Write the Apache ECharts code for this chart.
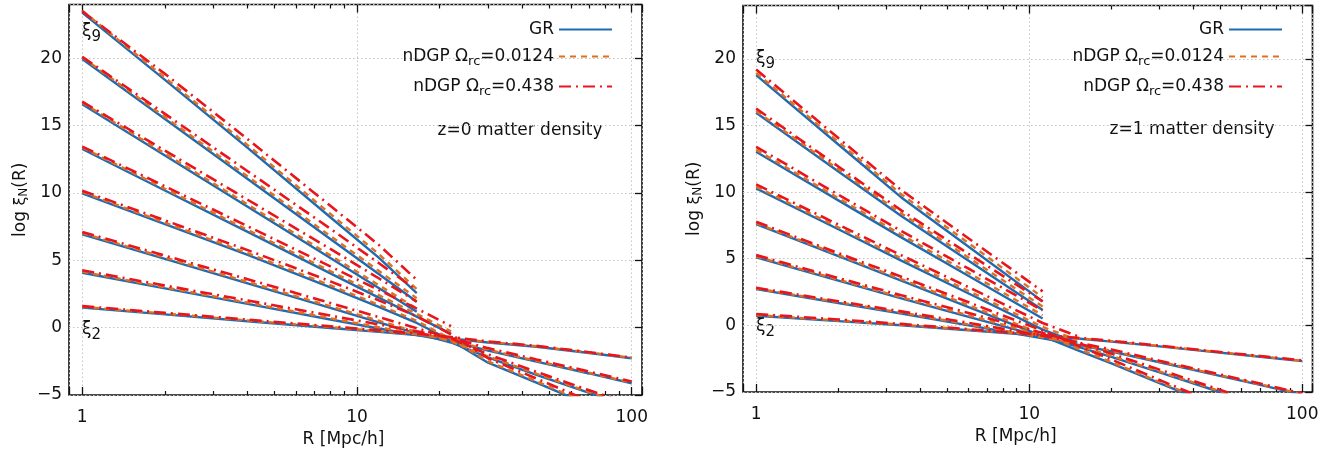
<!DOCTYPE html>
<html><head><meta charset="utf-8">
<script src="https://cdn.jsdelivr.net/npm/echarts@6/dist/echarts.min.js"></script>
<style>html,body{margin:0;padding:0;background:#fff}#c{width:1338px;height:460px}</style>
</head><body><div id="c"></div>
<script>
// ---------------- DATA ----------------
// Radii (Mpc/h) at which the curves are sampled
const R_Z0 = [1, 2, 4, 8, 12, 16.5, 22, 30, 45, 70, 100];
const R_Z1 = [1, 2, 3.4, 6, 11.2, 15, 20, 30, 45, 70, 100];
// log xi_N(R), rows = N = 2..9 ; z = 0
const Z0_GR = [
  [1.49, 0.99, 0.48, -0.02, -0.31, -0.54, -0.80, -1.10, -1.42, -1.88, -2.27],
  [4.08, 2.92, 1.77, 0.61, -0.06, -0.55, -1.00, -1.70, -2.52, -3.40, -4.13],
  [6.93, 5.11, 3.29, 1.47, 0.40, -0.43, -1.10, -2.20, -3.50, -4.85, -5.90],
  [9.98, 7.69, 5.40, 3.00, 1.55, 0.35, -0.95, -2.60, -4.08, -5.75],
  [13.27, 10.19, 7.11, 4.03, 2.23, 0.82, -0.46],
  [16.60, 12.79, 8.98, 5.17, 2.94, 1.19],
  [19.95, 15.49, 11.04, 6.59, 3.98, 1.93],
  [23.40, 18.40, 13.35, 8.20, 5.20, 2.57]
];
const Z0_DGP1 = [
  [1.55, 1.05, 0.54, 0.04, -0.26, -0.50, -0.76, -1.06, -1.38, -1.84, -2.23],
  [4.16, 3.00, 1.86, 0.70, 0.03, -0.47, -0.93, -1.64, -2.46, -3.35, -4.08],
  [7.02, 5.21, 3.40, 1.59, 0.52, -0.32, -1.02, -2.13, -3.42, -4.78, -5.83],
  [10.08, 7.80, 5.53, 3.14, 1.70, 0.50, -0.85, -2.50, -3.98, -5.65],
  [13.38, 10.32, 7.26, 4.20, 2.42, 1.02, -0.28],
  [16.72, 12.93, 9.15, 5.37, 3.16, 1.42],
  [20.08, 15.65, 11.23, 6.81, 4.22, 2.19],
  [23.54, 18.57, 13.56, 8.45, 5.47, 2.86]
];
const Z0_DGP2 = [
  [1.60, 1.10, 0.60, 0.10, -0.20, -0.44, -0.70, -1.02, -1.35, -1.82, -2.22],
  [4.26, 3.13, 2.02, 0.90, 0.24, -0.27, -0.77, -1.52, -2.36, -3.26, -4.00],
  [7.11, 5.35, 3.60, 1.83, 0.79, -0.04, -0.80, -1.98, -3.28, -4.65, -5.70],
  [10.17, 7.97, 5.76, 3.44, 2.03, 0.85, -0.50, -2.27, -3.78, -5.45],
  [13.45, 10.50, 7.53, 4.55, 2.80, 1.42, 0.12],
  [16.78, 13.15, 9.50, 5.85, 3.67, 1.94],
  [20.12, 15.88, 11.62, 7.35, 4.80, 2.78],
  [23.50, 18.85, 14.00, 9.05, 6.15, 3.55]
];
// z = 1
const Z1_GR = [
  [0.72, 0.32, 0.01, -0.37, -0.78, -0.99, -1.22, -1.58, -1.95, -2.35, -2.68],
  [2.72, 1.68, 0.89, 0.00, -0.97, -1.45, -1.96, -2.77, -3.58, -4.47, -5.20],
  [5.10, 3.35, 2.02, 0.64, -0.87, -1.60, -2.37, -3.53, -4.70, -6.00],
  [7.60, 5.19, 3.36, 1.37, -0.80, -1.85, -2.86, -4.34, -5.80],
  [10.28, 7.21, 4.86, 2.39, -0.32, -1.30],
  [13.02, 9.38, 6.60, 3.71, 0.52],
  [15.95, 11.55, 8.20, 4.84, 1.15],
  [18.78, 13.57, 9.60, 5.90, 1.80]
];
const Z1_DGP1 = [
  [0.77, 0.37, 0.05, -0.33, -0.75, -0.96, -1.19, -1.55, -1.92, -2.32, -2.66],
  [2.77, 1.74, 0.96, 0.07, -0.90, -1.39, -1.91, -2.72, -3.53, -4.42, -5.15],
  [5.17, 3.43, 2.11, 0.75, -0.76, -1.50, -2.29, -3.46, -4.63, -5.93],
  [7.67, 5.28, 3.47, 1.51, -0.65, -1.72, -2.76, -4.25, -5.72],
  [10.40, 7.35, 5.03, 2.58, -0.12, -1.10],
  [13.17, 9.55, 6.80, 3.93, 0.76],
  [16.08, 11.71, 8.40, 5.08, 1.41],
  [18.95, 13.77, 9.84, 6.17, 2.10]
];
const Z1_DGP2 = [
  [0.85, 0.44, 0.11, -0.29, -0.72, -0.93, -1.16, -1.52, -1.90, -2.30, -2.63],
  [2.82, 1.81, 1.05, 0.19, -0.78, -1.28, -1.81, -2.65, -3.47, -4.37, -5.10],
  [5.27, 3.55, 2.26, 0.93, -0.57, -1.32, -2.12, -3.32, -4.52, -5.85],
  [7.77, 5.42, 3.65, 1.73, -0.40, -1.50, -2.56, -4.10, -5.60],
  [10.58, 7.56, 5.26, 2.86, 0.18, -0.80],
  [13.40, 9.80, 7.08, 4.25, 1.12],
  [16.27, 11.92, 8.63, 5.36, 1.80],
  [19.20, 14.05, 10.15, 6.52, 2.55]
];
const MODEL_NAMES = ['GR', 'nDGP Ωrc=0.0124', 'nDGP Ωrc=0.438'];
const PANEL_NOTES = ['z=0 matter density', 'z=1 matter density'];
const X_MAJOR_TICKS = [1, 10, 100];
const X_MINOR_TICKS = [2, 3, 4, 5, 6, 7, 8, 9, 20, 30, 40, 50, 60, 70, 80, 90];
const Y_TICK_STEP = 5;

// ---------------- STYLE / LAYOUT ----------------
const FONT = 'DejaVu Sans';
const FS = 17;
const TXT = '#111';
const X_MIN = 0.895, X_MAX = 109, Y_MIN = -5, Y_MAX = 24;
const STYLES = [
  {color: '#1f6bb2', type: 'solid', width: 2.4},
  {color: '#e0701f', type: [6, 5], width: 2.4},
  {color: '#e8161c', type: [12, 5, 2, 5], width: 2.6}
];
const PANELS = [
  {grid: {left: 69, top: 4.5, width: 573, height: 390.5}, R: R_Z0, models: [Z0_GR, Z0_DGP1, Z0_DGP2],
   legendRight: 720, note: [520, 131]},
  {grid: {left: 743, top: 5.5, width: 569.5, height: 386.5}, R: R_Z1, models: [Z1_GR, Z1_DGP1, Z1_DGP2],
   legendRight: 50, note: [1192, 130]}
];
const gridLine = {show: true, lineStyle: {color: '#c4c4c4', type: [1.5, 2.5], width: 1}};
const minus = v => String(v).replace('-', '\u2212');

const grids = [], xAxes = [], yAxes = [], series = [], legends = [], graphics = [];
PANELS.forEach((p, pi) => {
  grids.push(Object.assign({show: true, borderColor: '#111', borderWidth: 1.6, backgroundColor: 'transparent'}, p.grid));
  const xi0 = xAxes.length;
  // main log axis (bottom): data, major ticks, labels, vertical grid
  xAxes.push({type: 'log', gridIndex: pi, position: 'bottom', min: X_MIN, max: X_MAX, logBase: 10,
    name: 'R [Mpc/h]', nameLocation: 'middle', nameGap: 36,
    nameTextStyle: {fontFamily: FONT, fontSize: FS, color: TXT, padding: [0, 24, 0, 0]},
    axisLine: {show: false, onZero: false},
    axisTick: {show: true, inside: true, length: 8, lineStyle: {color: '#111', width: 1.3}},
    axisLabel: {margin: 14, fontFamily: FONT, fontSize: FS, color: TXT,
      formatter: v => X_MAJOR_TICKS.some(t => Math.abs(t - v) < 1e-6) ? String(Math.round(v)) : ''},
    splitLine: gridLine, minorTick: {show: false}});
  // mirrored major ticks (top)
  xAxes.push({type: 'log', gridIndex: pi, position: 'top', min: X_MIN, max: X_MAX, logBase: 10,
    axisLine: {show: false, onZero: false},
    axisTick: {show: true, inside: true, length: 8, lineStyle: {color: '#111', width: 1.3}},
    axisLabel: {show: false}, splitLine: {show: false}});
  // minor ticks (bottom & top), decorative axes in log10 space
  ['bottom', 'top'].forEach(pos => xAxes.push({type: 'value', gridIndex: pi, position: pos,
    min: Math.log10(X_MIN), max: Math.log10(X_MAX),
    axisLine: {show: false, onZero: false},
    axisTick: {show: true, inside: true, length: 4, customValues: X_MINOR_TICKS.map(v => Math.log10(v)),
      lineStyle: {color: '#111', width: 1.2}},
    axisLabel: {show: false}, splitLine: {show: false}}));
  const yi0 = yAxes.length;
  yAxes.push({type: 'value', gridIndex: pi, position: 'left', min: Y_MIN, max: Y_MAX, interval: Y_TICK_STEP,
    name: 'log {x|ξ}{n|N}(R)', nameLocation: 'middle', nameGap: 39, nameRotate: 90,
    nameTextStyle: {fontFamily: FONT, fontSize: FS, color: TXT,
      rich: {x: {fontFamily: FONT, fontSize: 16, color: TXT}, n: {fontFamily: FONT, fontSize: 12, color: TXT, padding: [6, 0, 0, 0]}}},
    axisLine: {show: false, onZero: false}, axisTick: {show: false},
    axisLabel: {margin: 7, fontFamily: FONT, fontSize: FS, color: TXT, showMaxLabel: false,
      formatter: v => (v % Y_TICK_STEP === 0 ? minus(v) : '')},
    splitLine: gridLine});
  yAxes.push({type: 'value', gridIndex: pi, position: 'right', min: Y_MIN, max: Y_MAX, interval: Y_TICK_STEP,
    axisLine: {show: false, onZero: false},
    axisTick: {show: true, inside: true, length: 7, lineStyle: {color: '#111', width: 1.3}},
    axisLabel: {show: false}, splitLine: {show: false}});

  p.models.forEach((rows, mi) => {
    rows.forEach((vals, n) => {
      series.push({type: 'line', name: MODEL_NAMES[mi], xAxisIndex: xi0, yAxisIndex: yi0,
        data: vals.map((v, i) => [p.R[i], v]), showSymbol: false, symbol: 'none', clip: true,
        z: 2 + mi, silent: true,
        lineStyle: {color: STYLES[mi].color, type: STYLES[mi].type, width: STYLES[mi].width},
        itemStyle: {color: STYLES[mi].color}});
    });
  });

  legends.push({orient: 'vertical', right: p.legendRight, top: 16, align: 'right', itemWidth: 53, itemHeight: 14,
    itemGap: 10, selectedMode: false, data: MODEL_NAMES,
    itemStyle: {opacity: 0},
    formatter: nm => nm.replace('Ωrc', 'Ω{s|rc}'),
    textStyle: {fontFamily: FONT, fontSize: FS, color: TXT,
      rich: {s: {fontFamily: FONT, fontSize: 13, color: TXT, padding: [10, 0, 0, 0]}}}});

  graphics.push({type: 'text', x: p.note[0], y: p.note[1],
    style: {text: PANEL_NOTES[pi], font: FS + 'px "' + FONT + '"', fill: TXT, align: 'center', verticalAlign: 'middle'}});
});
// curve labels xi_9 / xi_2
const lab = (x, y, n) => ({type: 'text', x: x, y: y,
  style: {text: '{g|ξ}{s|' + n + '}', fill: TXT,
    rich: {g: {fontFamily: FONT, fontSize: 17, fill: TXT}, s: {fontFamily: FONT, fontSize: 15, fill: TXT, padding: [12, 0, 0, 0]}}}});
graphics.push(lab(82, 18, 9), lab(82, 316, 2), lab(756, 45, 9), lab(756, 313, 2));

const chart = echarts.init(document.getElementById('c'), null, {renderer: 'canvas'});
chart.setOption({animation: false, backgroundColor: '#fff', textStyle: {fontFamily: FONT},
  grid: grids, xAxis: xAxes, yAxis: yAxes, series: series, legend: legends, graphic: graphics});
</script></body></html>
